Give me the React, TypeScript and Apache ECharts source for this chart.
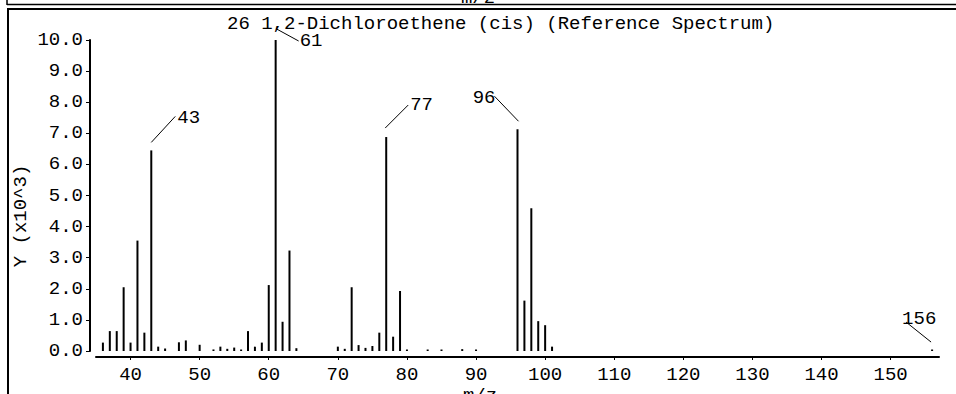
import React, { useEffect, useRef } from "react";
import * as echarts from "echarts";

// ---------- data ----------
const titleText = "26 1,2-Dichloroethene (cis) (Reference Spectrum)";
const xAxisName = "m/z";
const yAxisName = "Y (x10^3)";
const topPanelAxisName = "m/z";

const mzValues = [
  36, 37, 38, 39, 40, 41, 42, 43, 44, 45, 47, 48, 50, 52, 53, 54, 55, 56, 57, 58, 59,
  60, 61, 62, 63, 64, 70, 71, 72, 73, 74, 75, 76, 77, 78, 79, 80, 83, 85, 88, 90,
  96, 97, 98, 99, 100, 101, 156,
];
const intensities = [
  0.27, 0.64, 0.64, 2.05, 0.27, 3.55, 0.59, 6.45, 0.14, 0.08, 0.28, 0.34, 0.2, 0.05,
  0.14, 0.07, 0.11, 0.04, 0.64, 0.14, 0.27, 2.12, 10.0, 0.94, 3.23, 0.09, 0.14, 0.07,
  2.05, 0.19, 0.1, 0.16, 0.59, 6.88, 0.46, 1.93, 0.03, 0.03, 0.03, 0.06, 0.03, 7.13,
  1.62, 4.59, 0.96, 0.83, 0.14, 0.03,
];
const xTickValues = [40, 50, 60, 70, 80, 90, 100, 110, 120, 130, 140, 150];
const peakLabels = [43, 61, 77, 96, 156];

// ---------- styling / layout ----------
const FONT_FAMILY = '"Liberation Mono", "DejaVu Sans Mono", monospace';
const FONT_SIZE = 19;
const FONT = `${FONT_SIZE}px ${FONT_FAMILY}`;

// leader line offsets (px) relative to the top of the labelled peak
const leaderLayout: Record<
  number,
  { sx: number; sy: number; ex: number; ey: number; tx: number; ty: number; align: string }
> = {
  43: { sx: 0, sy: -8, ex: 24, ey: -34, tx: 26, ty: -32, align: "left" },
  61: { sx: 1, sy: -11, ex: 23, ey: 1, tx: 24, ty: 1, align: "left" },
  77: { sx: -1, sy: -9, ex: 22, ey: -32, tx: 24, ty: -32, align: "left" },
  96: { sx: 1, sy: -8, ex: -23, ey: -33, tx: -22, ty: -31, align: "right" },
  156: { sx: -1, sy: -8, ex: -26, ey: -28, tx: -30, ty: -31, align: "left" },
};

export default function App() {
  const ref = useRef<HTMLDivElement>(null);

  useEffect(() => {
    if (!ref.current) return;
    const chart = echarts.init(ref.current, null, { renderer: "svg" });

    const barData = mzValues.map((m, i) => [m, intensities[i]]);
    const labelData = peakLabels.map((m) => [m, intensities[mzValues.indexOf(m)]]);

    const option: any = {
      animation: false,
      backgroundColor: "#fff",
      title: {
        text: titleText,
        left: 227,
        top: 14,
        padding: 0,
        textStyle: {
          fontFamily: FONT_FAMILY,
          fontSize: FONT_SIZE,
          fontWeight: "normal",
          color: "#000",
        },
      },
      grid: { left: 96, right: 17, top: 40, bottom: 43, containLabel: false },
      xAxis: {
        type: "value",
        min: 35,
        max: 157,
        offset: 6,
        splitLine: { show: false },
        axisLine: { show: true, onZero: false, lineStyle: { color: "#000", width: 2 } },
        axisTick: { show: true, length: 3, customValues: xTickValues, lineStyle: { color: "#000", width: 1 } },
        axisLabel: {
          customValues: xTickValues,
          margin: 8,
          color: "#000",
          fontFamily: FONT_FAMILY,
          fontSize: FONT_SIZE,
        },
      },
      yAxis: {
        type: "value",
        min: 0,
        max: 10,
        interval: 1,
        offset: 6,
        splitLine: { show: false },
        axisLine: { show: true, onZero: false, lineStyle: { color: "#000", width: 2 } },
        axisTick: { show: true, length: 4, lineStyle: { color: "#000", width: 1 } },
        axisLabel: {
          margin: 7,
          color: "#000",
          fontFamily: FONT_FAMILY,
          fontSize: FONT_SIZE,
          formatter: (v: number) => v.toFixed(1),
        },
      },
      graphic: [
        // frame lines
        { type: "line", silent: true, shape: { x1: 7, y1: 0, x2: 7, y2: 5 }, style: { stroke: "#000", lineWidth: 1.5 } },
        { type: "line", silent: true, shape: { x1: 7, y1: 4.5, x2: 956, y2: 4.5 }, style: { stroke: "#000", lineWidth: 1.5 } },
        { type: "line", silent: true, shape: { x1: 7, y1: 9, x2: 956, y2: 9 }, style: { stroke: "#000", lineWidth: 2 } },
        { type: "line", silent: true, shape: { x1: 8, y1: 8, x2: 8, y2: 394 }, style: { stroke: "#000", lineWidth: 2 } },
        // axis names
        {
          type: "text",
          x: 21,
          y: 216,
          rotation: Math.PI / 2,
          style: { text: yAxisName, font: FONT, fill: "#000", align: "center", verticalAlign: "middle" },
        },
        {
          type: "text",
          x: 480,
          y: 386,
          style: { text: xAxisName, font: FONT, fill: "#000", align: "center", verticalAlign: "top" },
        },
        {
          type: "text",
          x: 478,
          y: 7,
          z: -1,
          style: { text: topPanelAxisName, font: FONT, fill: "#000", align: "center", verticalAlign: "bottom" },
        },
      ],
      series: [
        {
          type: "custom",
          name: "spectrum",
          coordinateSystem: "cartesian2d",
          encode: { x: 0, y: 1 },
          clip: false,
          data: barData,
          renderItem: (params: any, api: any) => {
            const top = api.coord([api.value(0), api.value(1)]);
            const base = api.coord([api.value(0), 0]);
            const h = Math.max(base[1] - top[1], 1.5);
            return {
              type: "rect",
              shape: { x: top[0] - 1, y: base[1] - h, width: 2, height: h },
              style: { fill: "#000" },
            };
          },
        },
        {
          type: "custom",
          name: "peak labels",
          coordinateSystem: "cartesian2d",
          encode: { x: 0, y: 1 },
          clip: false,
          data: labelData,
          renderItem: (params: any, api: any) => {
            const mz = api.value(0);
            const p = api.coord([mz, api.value(1)]);
            const L = leaderLayout[mz];
            return {
              type: "group",
              children: [
                {
                  type: "line",
                  shape: { x1: p[0] + L.sx, y1: p[1] + L.sy, x2: p[0] + L.ex, y2: p[1] + L.ey },
                  style: { stroke: "#000", lineWidth: 1 },
                },
                {
                  type: "text",
                  x: p[0] + L.tx,
                  y: p[1] + L.ty,
                  style: {
                    text: String(mz),
                    font: FONT,
                    fill: "#000",
                    align: L.align,
                    verticalAlign: "middle",
                  },
                },
              ],
            };
          },
        },
      ],
    };

    chart.setOption(option);
    return () => chart.dispose();
  }, []);

  return (
    <div
      ref={ref}
      style={{ width: 956, height: 394, position: "absolute", left: 0, top: 0 }}
    />
  );
}
